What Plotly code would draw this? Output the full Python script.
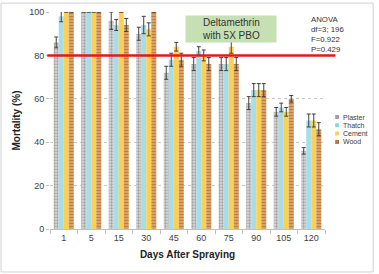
import plotly.graph_objects as go

days = ["1", "5", "15", "30", "45", "60", "75", "90", "105", "120"]
plaster = [86, 100, 96, 90, 72, 76, 76, 58, 54, 36]
thatch = [98, 100, 94, 94, 78, 82, 76, 64, 56, 50]
cement = [100, 100, 100, 92, 84, 80, 84, 64, 54, 50]
wood = [100, 100, 94, 100, 78, 76, 76, 64, 60, 46]
plaster_err = [2.5, 0, 4, 3, 3, 3, 3, 3, 2, 1.5]
thatch_err = [2.5, 0, 2.5, 4, 3, 2, 3, 3, 2, 3]
cement_err = [0, 0, 0, 3, 2, 2.5, 3, 3, 2, 3]
wood_err = [0, 0, 3, 0, 3, 3, 3, 3, 1.5, 3]

series = [
    ("Plaster", plaster, plaster_err, "#a0a0a0", dict(color="#c9c9c9", pattern=dict(shape=".", fgcolor="#6e6e6e", bgcolor="#d6d6d6", size=3, solidity=0.45))),
    ("Thatch", thatch, thatch_err, "#8fd3df", dict(color="#a6dde6")),
    ("Cement", cement, cement_err, "#fbd053", dict(color="#fbd053")),
    ("Wood", wood, wood_err, "#b8743a", dict(color="#d49a5c", pattern=dict(shape="-", fgcolor="#9a5a24", bgcolor="#dca46a", size=3, solidity=0.4))),
]

fig = go.Figure()
for name, vals, errs, lc, mk in series:
    fig.add_trace(go.Bar(
        name=name, x=days, y=vals, marker=dict(line=dict(width=0), **mk),
        error_y=dict(type="data", array=errs, color="#404040", thickness=1, width=2),
        showlegend=False,
    ))

fig.update_layout(
    width=379, height=274,
    margin=dict(l=50, r=54, t=12, b=45, autoexpand=False),
    paper_bgcolor="white", plot_bgcolor="white",
    barmode="group", bargap=0.27, bargroupgap=0,
    font=dict(family="Liberation Sans", size=9, color="#404040"),
    showlegend=False,
    xaxis=dict(
        title=dict(text="<b>Days After Spraying</b>", font=dict(size=10, color="#222"), standoff=9),
        showline=True, linecolor="#bfbfbf", linewidth=1, tickangle=0,
        ticks="outside", tickson="boundaries", tickcolor="#bfbfbf", ticklen=4,
        tickfont=dict(size=9, color="#404040"),
    ),
    yaxis=dict(
        title=dict(text="<b>Mortality (%)</b>", font=dict(size=10, color="#222"), standoff=6),
        range=[0, 100], dtick=20, showgrid=True, gridcolor="#c8c8c8", griddash="dot",
        zeroline=False, showline=False,
        ticks="outside", tickcolor="#bfbfbf", ticklen=3,
        tickfont=dict(size=9, color="#404040"),
    ),
)

# red threshold line
fig.add_shape(type="line", xref="paper", yref="y", x0=-0.01, x1=1.038, y0=80, y1=80,
              line=dict(color="#e31a1a", width=2.5))

# green label box
fig.add_annotation(xref="paper", yref="paper", x=0.658, y=0.92, xanchor="center", yanchor="middle",
                   text="Deltamethrin<br>with 5X PBO", showarrow=False,
                   font=dict(size=10, color="#333", family="Liberation Sans"),
                   bgcolor="#c6e0b4", borderpad=1, width=88, align="center")

fig.add_annotation(xref="paper", yref="paper", x=0.94, y=0.995, xanchor="left", yanchor="top",
                   text="ANOVA<br>df=3; 196<br>F=0.922<br>P=0.429", showarrow=False, align="left",
                   font=dict(size=7.8, color="#333"))

# legend (compact, as in reference)
leg_y = [0.516, 0.478, 0.440, 0.401]
for (name, vals, errs, lc, mk), yy in zip(series, leg_y):
    fig.add_shape(type="rect", xref="paper", yref="paper", x0=1.037, x1=1.051,
                  y0=yy - 0.009, y1=yy + 0.009, fillcolor=lc, line=dict(width=0))
    fig.add_annotation(xref="paper", yref="paper", x=1.058, y=yy, xanchor="left", yanchor="middle",
                       text=name, showarrow=False, font=dict(size=7, color="#404040"))

# outer frame
fig.add_shape(type="rect", xref="paper", yref="paper", x0=-0.178, x1=1.175, y0=-0.198, y1=1.041,
              line=dict(color="#d0d0d0", width=1))

fig.write_html("out.html")
